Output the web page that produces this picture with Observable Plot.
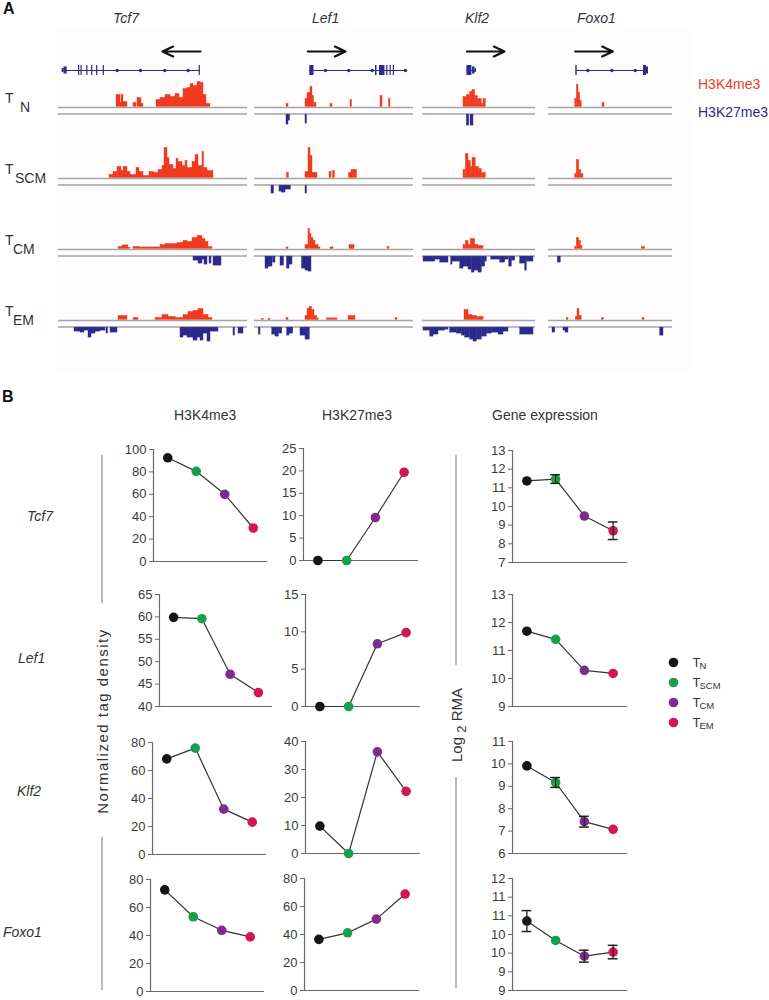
<!DOCTYPE html>
<html><head><meta charset="utf-8">
<script src="https://cdn.jsdelivr.net/npm/d3@7"></script>
<script src="https://cdn.jsdelivr.net/npm/@observablehq/plot@0.6"></script>
<style>
body{margin:0;background:#fff;}
#fig{position:relative;width:769px;height:1000px;overflow:hidden;font-family:"Liberation Sans",Arial,sans-serif;color:#333;}
.abs{position:absolute;}
</style></head><body><div id="fig"></div>
<script>
// ---------------- DATA ----------------
const cells = ["TN", "TSCM", "TCM", "TEM"];
const cellColors = ["#151515", "#17a04c", "#7b2c8e", "#d5155b"];
const genes = ["Tcf7", "Lef1", "Klf2", "Foxo1"];

// Panel A: locus windows (relative units) and ChIP-seq signal segments [start, end, height]
const locusSpan = {Tcf7: 189, Lef1: 159, Klf2: 113, Foxo1: 124};

const tcf7K4 = {
  TN: [[58,62,12],[62,63,4],[63,65,12],[65,69,5],[75,78,4],[79,83,9],[83,85,3],[98,102,7],[102,107,9],[107,112,12],[112,117,10],[117,121,13],[121,125,9],[125,129,18],[129,132,19],[132,135,23],[135,139,21],[139,142,25],[142,145,24],[145,148,12],[148,152,3]],
  TSCM: [[51,55,3],[55,59,6],[59,63,11],[63,65,7],[65,69,11],[69,72,6],[72,78,3],[78,81,10],[81,85,6],[85,91,2],[91,96,6],[96,100,5],[100,104,8],[104,106,12],[106,109,30],[109,111,20],[111,115,13],[115,118,9],[118,120,19],[120,124,16],[124,127,12],[127,129,17],[129,134,10],[134,137,16],[137,140,23],[140,144,12],[144,145.5,26],[145.5,149,10],[149,155,7]],
  TCM: [[60,64,2],[64,70,3.5],[70,72,1],[75,81,2],[81,102,1.5],[102,107,4],[107,119,5],[119,125,6],[125,129,8],[129,134,7],[134,139,11],[139,144,13],[144,147,10],[147,150,7],[150,154,2]],
  TEM: [[60,69,4],[75,80,2],[97,104,2],[104,110,5],[110,117,3],[117,125,2],[125,130,5],[130,135,8],[135,140,9],[140,145,11],[145,150,5],[150,154,2]]
};
const tcf7K27 = {
  TN: [], TSCM: [],
  TCM: [[135,140,4],[140,144,7],[144,146,3],[146,149,8],[151,153,7],[155,159,9],[159,163,9]],
  TEM: [[16,22,4],[22,26,5],[26,30,3],[30,33,10],[33,37,6],[37,42,4],[42,47,3],[48,49.5,6],[52,59,5],[122,125,10],[125,129,8],[129,135,10],[135,139,13],[139,142,10],[142,145,13],[145,149,6],[149,152,14],[152,160,4],[175,176.5,8],[180,185,6]]
};
const lef1K4 = {
  TN: [[32,34,3],[51,53,8],[53,56,14],[56,58,20],[58,59.5,11],[59.5,62,4],[76,78,3],[96,97.5,7],[126,128,11],[134.5,136,8]],
  TSCM: [[32.5,34.5,5],[51,54,6],[54,56,30],[56,58,22],[58,61,5],[61,63,5],[75,77,6],[78.5,80.5,7],[94.5,97,5],[97,99.5,8],[99.5,102.5,8]],
  TCM: [[32,34,1.5],[51,54,4],[54,55.5,20],[55.5,57,15],[57,59,11],[59,61,8],[61,64,4],[64,66,1.5],[76,79,1.5],[95,100,4],[133,135,2]],
  TEM: [[7.5,9.5,1],[14,16,1],[32,34,2],[51,53,4],[53,55,11],[55,57.5,13],[57.5,60,10],[60,62.7,4],[62.7,64.3,1.5],[72.5,83,1.5],[94,101,4],[141,143,2]]
};
const lef1K27 = {
  TN: [[32,34,10],[34,35.5,6],[51,52.5,9]],
  TSCM: [[17,19.5,8],[25,27.5,6],[27.5,31,7],[31,36.5,4],[51,52.5,8]],
  TCM: [[11,14,12],[14,18,10],[18.5,21,6],[26,29.5,9],[32.5,35,12],[35,38,8],[47.5,51,12],[51,54,14],[54,57,15]],
  TEM: [[4.3,6,7],[17.7,21,7],[21,24.3,9],[24.3,27.7,6],[32.7,35,8],[35,38.7,6],[46,51,8],[51,55.3,12]]
};
const klf2K4 = {
  TN: [[41,44.3,10],[44.3,47.7,12],[47.7,50,15],[50,52.7,17],[52.7,55.3,11],[55.3,59.3,8],[59.3,61,3],[61,63.3,8]],
  TSCM: [[41,43.3,8],[43.3,46,24],[46,48.3,17],[48.3,50,11],[50,53.3,20],[53.3,56.7,11],[56.7,59.3,9],[59.3,63.3,5]],
  TCM: [[41,43.3,4],[43.3,46,8],[46,48.3,4],[48.3,52.7,10],[52.7,56,4],[56,61,3]],
  TEM: [[42,46,10],[46,50,5],[50,54.3,4],[54.3,61,3]]
};
const klf2K27 = {
  TN: [[44.3,46.7,11],[48,51,11]],
  TSCM: [],
  TCM: [[1,12.7,5],[12.7,17.7,3],[17.7,26,6],[28.7,30,8],[30,37.7,5],[37.7,41,12],[41,46,10],[46,49.3,13],[49.3,52,16],[52,56,14],[56,59.3,16],[59.3,62.7,10],[62.7,64.3,5],[68.7,77.7,3],[77.7,82.7,6],[82.7,86,3],[86.7,89.3,10],[89.3,92.7,4],[97.7,102.7,7],[102.7,104.3,14],[104.3,111,5]],
  TEM: [[1,7.7,3],[7.7,11,9],[11,16,7],[16,22.7,3],[22.7,26,2],[27.7,34.3,5],[34.3,39.3,6],[39.3,42.7,8],[42.7,47.7,10],[47.7,51,12],[51,54.3,14],[54.3,59.3,12],[59.3,64.3,9],[64.3,69.3,6],[69.3,76,5],[76,81,7],[81,86,4],[97.7,111,7]]
};
const foxo1K4 = {
  TN: [[26.7,28.3,8],[28.3,30,22],[30,31.7,14],[31.7,33.3,6],[54,56,4]],
  TSCM: [[26.7,28.3,4],[28.3,30.7,18],[30.7,32.7,8],[32.7,35,4]],
  TCM: [[26.7,28.3,2],[28.3,30.7,11],[30.7,32.3,8],[32.3,34,3],[93.3,96.7,2]],
  TEM: [[18.3,20,2],[27.3,29,3],[29,31,11],[31,33.3,4],[53.3,55.3,2],[94,96,2]]
};
const foxo1K27 = {
  TN: [], TSCM: [],
  TCM: [[9.3,12.3,6]],
  TEM: [[4,6.7,5],[15,17,3],[17,20,5],[111.7,115,8]]
};

// Gene models: transcript extent, exons [start, end, kind], intron marks, TSS arrow [from, to]
const tcf7Transcript = [3.7, 141.9];
const tcf7Exons = [[3.7,5.5,"utr"],[5.5,8.7,"mid"],[20,21.2,"tall"],[22.5,23.7,"tall"],[28.2,29.4,"tall"],[33.1,34.3,"tall"],[38.1,39.3,"tall"],[44.7,45.9,"tall"],[140.7,141.9,"tall"]];
const tcf7IntronMarks = [58.7, 82, 106.3, 129.7];
const tcf7Arrow = [142, 104];

const lef1Transcript = [55.3, 152];
const lef1Exons = [[55.3,59.5,"tall"],[121,122.5,"tall"],[125,130.5,"tall"],[132.2,133.4,"tall"],[135.6,136.8,"tall"],[138.8,140,"tall"]];
const lef1IntronMarks = [71, 94.3, 117.7, 151];
const lef1Arrow = [53.3, 91];

const klf2Transcript = [44.4, 54];
const klf2Exons = [[44.4,49.4,"tall"],[50,52.5,"mid"],[52.5,54,"utr"]];
const klf2IntronMarks = [];
const klf2Arrow = [44.4, 82];

const foxo1Transcript = [27.7, 100];
const foxo1Exons = [[27.3,28.7,"tall"],[95,98,"tall"],[98,100,"mid"]];
const foxo1IntronMarks = [39.3, 63.3, 86.7];
const foxo1Arrow = [26.7, 64.3];

// Panel B values (TN, TSCM, TCM, TEM)
const tcf7H3K4me3 = [92.6, 80.5, 60, 29.9];
const tcf7H3K27me3 = [0, 0, 9.6, 19.7];
const tcf7Expr = [11.37, 11.47, 9.49, 8.70];
const tcf7ExprErr = [0, 0.23, 0, 0.47];

const lef1H3K4me3 = [59.9, 59.6, 47.2, 43.1];
const lef1H3K27me3 = [0, 0, 8.4, 9.9];
const lef1Expr = [11.69, 11.40, 10.29, 10.18];
const lef1ExprErr = [0, 0, 0, 0];

const klf2H3K4me3 = [68.3, 76, 32.4, 23.1];
const klf2H3K27me3 = [9.8, 0, 36.3, 22.2];
const klf2Expr = [9.91, 9.17, 7.42, 7.08];
const klf2ExprErr = [0, 0.22, 0.24, 0];

const foxo1H3K4me3 = [72.6, 53.4, 43.7, 39];
const foxo1H3K27me3 = [36.5, 41.2, 51, 68.9];
const foxo1Expr = [10.86, 10.34, 9.92, 10.03];
const foxo1ExprErr = [0.28, 0, 0.16, 0.18];

// Tick values and labels
const tcf7K4Ticks = [0, 20, 40, 60, 80, 100];
const tcf7K27Ticks = [0, 5, 10, 15, 20, 25];
const tcf7ExprTicks = [7, 8, 9, 10, 11, 12, 13];
const lef1K4Ticks = [40, 45, 50, 55, 60, 65];
const lef1K27Ticks = [0, 5, 10, 15];
const lef1ExprTicks = [9, 10, 11, 12, 13];
const klf2K4Ticks = [0, 20, 40, 60, 80];
const klf2K27Ticks = [0, 10, 20, 30, 40];
const klf2ExprTicks = [6, 7, 8, 9, 10, 11];
const foxo1K4Ticks = [0, 20, 40, 60, 80];
const foxo1K27Ticks = [0, 20, 40, 60, 80];
const foxo1ExprTicks = [9, 9.5, 10, 10.5, 11, 11.5, 12];
const foxo1ExprTickLabels = ["9", "9", "10", "10", "11", "11", "12"];

// ---------------- STYLE / LAYOUT ----------------
const RED = "#ef3b1f", NAVY = "#2c2a8c", GRAY = "#a5a5a5";
const FONT = '"Liberation Sans", Arial, sans-serif';
const K27_OFFSET = 6.5;
const exonHeight = {tall: 10, mid: 7, utr: 4};
const colLeft = {Tcf7: 58, Lef1: 254, Klf2: 422, Foxo1: 548};

const fig = document.getElementById("fig");
function place(node, left, top, z = 1) {
  const d = document.createElement("div");
  d.className = "abs";
  d.style.left = left + "px"; d.style.top = top + "px"; d.style.zIndex = z;
  d.appendChild(node); fig.appendChild(d);
}

// faint panel A background
const bg = document.createElement("div");
bg.className = "abs";
Object.assign(bg.style, {left: "55px", top: "30px", width: "635px", height: "342px", background: "#fefcfd", zIndex: 0});
fig.appendChild(bg);

// ---------------- PANEL A ----------------
const panelA = {
  Tcf7: {k4: tcf7K4, k27: tcf7K27, tr: tcf7Transcript, ex: tcf7Exons, im: tcf7IntronMarks, ar: tcf7Arrow},
  Lef1: {k4: lef1K4, k27: lef1K27, tr: lef1Transcript, ex: lef1Exons, im: lef1IntronMarks, ar: lef1Arrow},
  Klf2: {k4: klf2K4, k27: klf2K27, tr: klf2Transcript, ex: klf2Exons, im: klf2IntronMarks, ar: klf2Arrow},
  Foxo1: {k4: foxo1K4, k27: foxo1K27, tr: foxo1Transcript, ex: foxo1Exons, im: foxo1IntronMarks, ar: foxo1Arrow}
};

for (const g of genes) {
  const G = panelA[g], span = locusSpan[g];
  const rows4 = cells.flatMap(c => G.k4[c].map(([a, b, h]) => ({cell: c, a, b, h})));
  const rows27 = cells.flatMap(c => G.k27[c].map(([a, b, h]) => ({cell: c, a, b, h})));
  const tracks = Plot.plot({
    width: span, height: 284, margin: 0,
    x: {domain: [0, span], axis: null},
    y: {domain: [-33, 38], axis: null},
    fy: {domain: cells, axis: null, padding: 0},
    style: {background: "transparent", overflow: "visible"},
    marks: [
      Plot.ruleY(cells, {fy: d => d, y: 0, stroke: GRAY, strokeWidth: 1.5}),
      Plot.ruleY(cells, {fy: d => d, y: -K27_OFFSET, stroke: GRAY, strokeWidth: 1.5}),
      Plot.rect(rows4, {x1: "a", x2: "b", y1: 0.6, y2: d => 0.6 + d.h, fy: "cell", fill: RED, stroke: RED, strokeWidth: 0.4}),
      Plot.rect(rows27, {x1: "a", x2: "b", y1: -K27_OFFSET - 0.6, y2: d => -K27_OFFSET - 0.6 - d.h, fy: "cell", fill: NAVY, stroke: NAVY, strokeWidth: 0.4})
    ]
  });
  place(tracks, colLeft[g], 69, 2);

  const model = Plot.plot({
    width: span, height: 40, margin: 0,
    x: {domain: [0, span], axis: null},
    y: {domain: [-15, 25], axis: null},
    style: {background: "transparent", overflow: "visible"},
    marks: [
      Plot.ruleY([G.tr], {y: 0, x1: d => d[0], x2: d => d[1], stroke: NAVY, strokeWidth: 1}),
      Plot.rect(G.ex, {x1: d => d[0], x2: d => d[1], y1: d => -exonHeight[d[2]] / 2, y2: d => exonHeight[d[2]] / 2, fill: NAVY}),
      Plot.dot(G.im, {x: d => d, y: 0, r: 1.7, fill: NAVY}),
      Plot.arrow([G.ar], {x1: d => d[0], x2: d => d[1], y1: 19, y2: 19, stroke: "#111", strokeWidth: 2.2, headLength: 8, headAngle: 50})
    ]
  });
  place(model, colLeft[g], 45, 3);
}

// ---------------- PANEL B ----------------
const bCharts = [
  {gene: "Tcf7", col: 0, vals: tcf7H3K4me3, ticks: tcf7K4Ticks, x: 153, top: 449, w: 114},
  {gene: "Tcf7", col: 1, vals: tcf7H3K27me3, ticks: tcf7K27Ticks, x: 303, top: 448, w: 115},
  {gene: "Tcf7", col: 2, vals: tcf7Expr, err: tcf7ExprErr, ticks: tcf7ExprTicks, x: 512, top: 450, w: 115},
  {gene: "Lef1", col: 0, vals: lef1H3K4me3, ticks: lef1K4Ticks, x: 159, top: 594, w: 113},
  {gene: "Lef1", col: 1, vals: lef1H3K27me3, ticks: lef1K27Ticks, x: 305, top: 594, w: 115},
  {gene: "Lef1", col: 2, vals: lef1Expr, err: lef1ExprErr, ticks: lef1ExprTicks, x: 512, top: 594, w: 115},
  {gene: "Klf2", col: 0, vals: klf2H3K4me3, ticks: klf2K4Ticks, x: 152, top: 742, w: 114},
  {gene: "Klf2", col: 1, vals: klf2H3K27me3, ticks: klf2K27Ticks, x: 305, top: 741, w: 115},
  {gene: "Klf2", col: 2, vals: klf2Expr, err: klf2ExprErr, ticks: klf2ExprTicks, x: 512, top: 741, w: 115},
  {gene: "Foxo1", col: 0, vals: foxo1H3K4me3, ticks: foxo1K4Ticks, x: 150, top: 879, w: 114},
  {gene: "Foxo1", col: 1, vals: foxo1H3K27me3, ticks: foxo1K27Ticks, x: 304, top: 878, w: 115},
  {gene: "Foxo1", col: 2, vals: foxo1Expr, err: foxo1ExprErr, ticks: foxo1ExprTicks, labels: foxo1ExprTickLabels, x: 512, top: 878, w: 115}
];
const CAP = 0.17, ML = 40, MT = 6, MB = 6, MR = 8, PH = 112;

for (const c of bCharts) {
  const rows = cells.map((cell, i) => ({cell, pos: i + 0.5, v: c.vals[i], e: c.err ? c.err[i] : 0}));
  const errRows = rows.filter(d => d.e > 0);
  const labelMap = new Map(c.ticks.map((t, i) => [t, c.labels ? c.labels[i] : String(t)]));
  const ax = "#6a6a6a";
  const p = Plot.plot({
    width: ML + c.w + MR, height: MT + PH + MB,
    marginLeft: ML, marginRight: MR, marginTop: MT, marginBottom: MB,
    x: {domain: [0, 4], axis: null, label: null},
    y: {domain: [c.ticks[0], c.ticks[c.ticks.length - 1]], axis: null, label: null},
    color: {domain: cells, range: cellColors},
    style: {background: "transparent", overflow: "visible", fontFamily: FONT, fontSize: "13px", color: "#3a3a3a"},
    marks: [
      Plot.axisY(c.ticks, {tickSize: 4, tickPadding: 3, tickFormat: d => labelMap.get(d), fontSize: 13, stroke: ax, label: null}),
      Plot.ruleX([0], {stroke: ax, strokeWidth: 1.2}),
      Plot.ruleY([c.ticks[0]], {stroke: ax, strokeWidth: 1.2}),
      Plot.line(rows, {x: "pos", y: "v", stroke: "#333", strokeWidth: 1.2}),
      Plot.dot(rows, {x: "pos", y: "v", fill: "cell", r: 4.8}),
      Plot.ruleX(errRows, {x: "pos", y1: d => d.v - d.e, y2: d => d.v + d.e, stroke: "#222", strokeWidth: 1.3}),
      Plot.ruleY(errRows, {y: d => d.v + d.e, x1: d => d.pos - CAP, x2: d => d.pos + CAP, stroke: "#222", strokeWidth: 1.5}),
      Plot.ruleY(errRows, {y: d => d.v - d.e, x1: d => d.pos - CAP, x2: d => d.pos + CAP, stroke: "#222", strokeWidth: 1.5})
    ]
  });
  place(p, c.x - ML, c.top - MT, 2);
}

// Legend (panel B)
const legend = Plot.plot({
  width: 100, height: 120, margin: 0, marginLeft: 13,
  x: {domain: [0, 1], axis: null},
  y: {type: "point", domain: cells, range: [21, 102], axis: null},
  color: {domain: cells, range: cellColors},
  style: {background: "transparent", overflow: "visible", fontFamily: FONT, color: "#333"},
  marks: [
    Plot.dot(cells, {x: 0, y: d => d, fill: d => d, r: 4.8}),
    Plot.text(cells, {x: 0, y: d => d, text: () => "T", dx: 19, textAnchor: "start", fontSize: 13}),
    Plot.text(cells, {x: 0, y: d => d, text: d => d.slice(1), dx: 26, dy: 3, textAnchor: "start", fontSize: 9.5})
  ]
});
place(legend, 660, 630, 2);

// ---------------- TEXT / DECORATION OVERLAY ----------------
const svg = d3.create("svg").attr("width", 769).attr("height", 1000)
  .style("position", "absolute").style("left", 0).style("top", 0).style("z-index", 5)
  .style("pointer-events", "none").style("font-family", FONT);

function txt(s, x, y, o = {}) {
  const t = svg.append("text").attr("x", x).attr("y", y).text(s)
    .attr("font-size", o.size || 14).attr("fill", o.fill || "#333");
  if (o.italic) t.attr("font-style", "italic");
  if (o.bold) t.attr("font-weight", "bold");
  if (o.anchor) t.attr("text-anchor", o.anchor);
  return t;
}

txt("A", 3, 14, {size: 16, bold: true, fill: "#111"});
txt("B", 2, 402, {size: 16, bold: true, fill: "#111"});

// gene names panel A
txt("Tcf7", 113, 23, {italic: true});
txt("Lef1", 312, 23, {italic: true});
txt("Klf2", 465, 23, {italic: true});
txt("Foxo1", 577, 23, {italic: true});

// cell type labels panel A
const rowBase = [107, 178, 249, 320];
const subX = [20, 15, 13, 13];
cells.forEach((c, i) => {
  txt("T", 5, rowBase[i] - 4, {size: 14});
  txt(c.slice(1), subX[i], rowBase[i] + 5, {size: 14});
});

txt("H3K4me3", 698, 89, {fill: RED});
txt("H3K27me3", 698, 117, {fill: NAVY});

// panel B headers
txt("H3K4me3", 174, 420);
txt("H3K27me3", 322, 420);
txt("Gene expression", 492, 420);

// panel B gene labels
txt("Tcf7", 27, 521, {italic: true});
txt("Lef1", 18, 663, {italic: true});
txt("Klf2", 17, 796, {italic: true});
txt("Foxo1", 3, 937, {italic: true});

// separators
const sep = [[102, 455, 603], [102, 837, 990], [456, 455, 665], [456, 777, 988]];
sep.forEach(([x, y1, y2]) => svg.append("line").attr("x1", x).attr("x2", x).attr("y1", y1).attr("y2", y2)
  .attr("stroke", "#8a8a8a").attr("stroke-width", 1.2));

svg.append("text").attr("transform", "translate(108,721) rotate(-90)").attr("text-anchor", "middle")
  .attr("font-size", 15).attr("letter-spacing", 1.5).attr("fill", "#333").text("Normalized tag density");

const lt = svg.append("text").attr("transform", "translate(462,725) rotate(-90)").attr("text-anchor", "middle")
  .attr("font-size", 15).attr("fill", "#333");
lt.append("tspan").text("Log ");
lt.append("tspan").attr("dy", 4).attr("font-size", 13).text("2");
lt.append("tspan").attr("dy", -4).text(" RMA");

fig.appendChild(svg.node());
</script>
</body></html>
